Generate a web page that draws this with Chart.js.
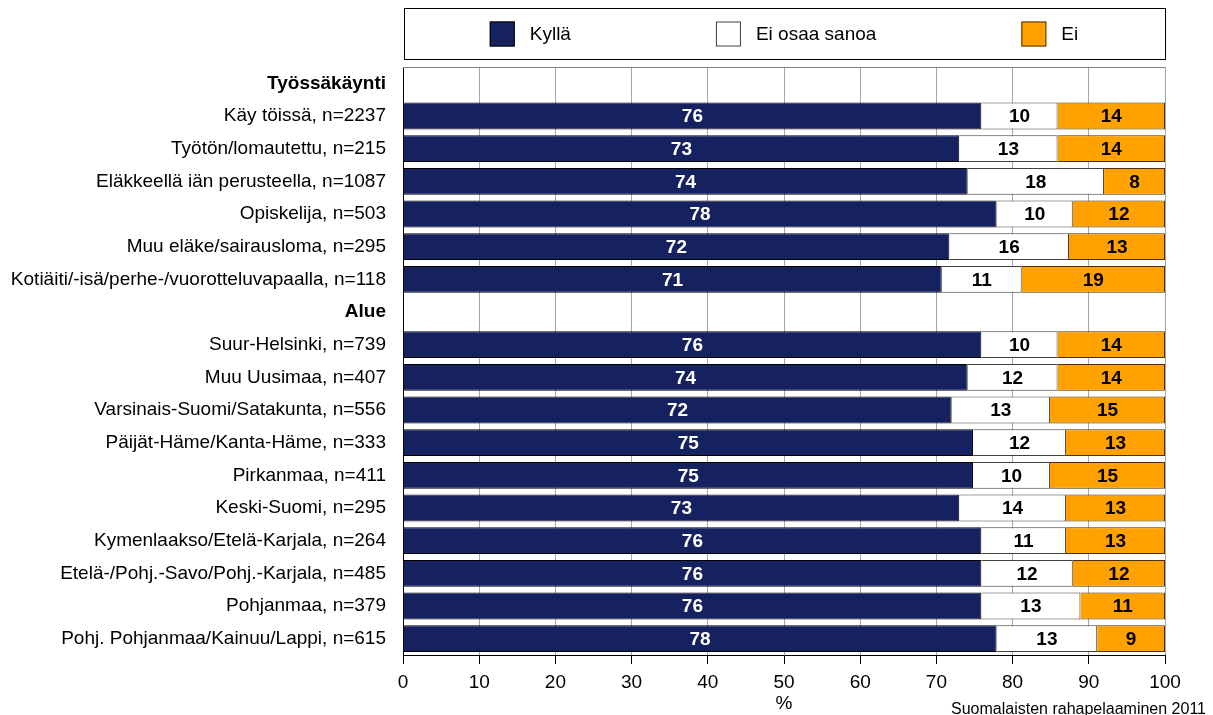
<!DOCTYPE html>
<html>
<head>
<meta charset="utf-8">
<script src="https://cdn.jsdelivr.net/npm/chart.js@4"></script>
<style>
  body { margin: 0; background: #fff; }
  #wrap { width: 1213px; height: 715px; position: relative; }
</style>
</head>
<body>
<div id="wrap"><canvas id="myChart"></canvas></div>
<script>
// Categories (header rows have no data)
const categories = [
  'Työssäkäynti',
  'Käy töissä, n=2237',
  'Työtön/lomautettu, n=215',
  'Eläkkeellä iän perusteella, n=1087',
  'Opiskelija, n=503',
  'Muu eläke/sairausloma, n=295',
  'Kotiäiti/-isä/perhe-/vuorotteluvapaalla, n=118',
  'Alue',
  'Suur-Helsinki, n=739',
  'Muu Uusimaa, n=407',
  'Varsinais-Suomi/Satakunta, n=556',
  'Päijät-Häme/Kanta-Häme, n=333',
  'Pirkanmaa, n=411',
  'Keski-Suomi, n=295',
  'Kymenlaakso/Etelä-Karjala, n=264',
  'Etelä-/Pohj.-Savo/Pohj.-Karjala, n=485',
  'Pohjanmaa, n=379',
  'Pohj. Pohjanmaa/Kainuu/Lappi, n=615'
];
const headerRows = ['Työssäkäynti', 'Alue'];

// Series values (%)
const kylla  = [null, 75.9, 73.0, 74.1, 77.9, 71.7, 70.7, null, 75.9, 74.1, 72.0, 74.8, 74.8, 73.0, 75.9, 75.9, 75.9, 77.9];
const eiOsaa = [null, 10.0, 12.9, 17.9, 10.0, 15.7, 10.5, null, 10.0, 11.8, 12.9, 12.2, 10.1, 14.0, 11.1, 12.0, 13.0, 13.2];
const ei     = [null, 14.1, 14.1,  8.0, 12.1, 12.6, 18.8, null, 14.1, 14.1, 15.1, 13.0, 15.1, 13.0, 13.0, 12.1, 11.1,  8.9];

const seriesNames = ['Kyllä', 'Ei osaa sanoa', 'Ei'];
const xTicks = [0, 10, 20, 30, 40, 50, 60, 70, 80, 90, 100];

const FONT = "'Liberation Sans', Arial, sans-serif";
const SIZE = 19;

// draws the numbers inside the bars
const barLabels = {
  id: 'barLabels',
  afterDatasetsDraw(chart) {
    const ctx = chart.ctx;
    ctx.save();
    ctx.font = 'bold ' + SIZE + 'px ' + FONT;
    ctx.textAlign = 'center';
    ctx.textBaseline = 'middle';
    chart.data.datasets.forEach((ds, i) => {
      const meta = chart.getDatasetMeta(i);
      meta.data.forEach((bar, j) => {
        const v = ds.data[j];
        if (v == null) return;
        const p = bar.getProps(['x', 'y', 'base'], true);
        ctx.fillStyle = i === 0 ? '#ffffff' : '#000000';
        ctx.fillText(Math.round(v), (p.x + p.base) / 2, p.y + 1);
      });
    });
    ctx.restore();
  }
};

// legend box, plot frame and source text
const frame = {
  id: 'frame',
  beforeDatasetsDraw(chart) {
    const a = chart.chartArea, ctx = chart.ctx;
    ctx.save();
    ctx.strokeStyle = '#808080';
    ctx.lineWidth = 1;
    ctx.beginPath();
    ctx.moveTo(a.left, a.top + 0.5);
    ctx.lineTo(a.right, a.top + 0.5);
    ctx.stroke();
    ctx.restore();
  },
  afterDraw(chart) {
    const a = chart.chartArea, ctx = chart.ctx;
    ctx.save();
    // legend
    ctx.strokeStyle = '#000';
    ctx.lineWidth = 1;
    ctx.strokeRect(a.left + 1.5, 8.5, a.width - 1, 51);
    ctx.font = SIZE + 'px ' + FONT;
    ctx.textBaseline = 'middle';
    const box = 25, gapText = 15, gapItem = 145;
    const widths = chart.data.datasets.map(d => box + gapText + ctx.measureText(d.label).width);
    const total = widths.reduce((s, w) => s + w, 0) + gapItem * (widths.length - 1);
    let x = (a.left + a.right) / 2 - total / 2;
    const cy = 34;
    chart.data.datasets.forEach((d, i) => {
      ctx.fillStyle = d.backgroundColor;
      ctx.fillRect(x, cy - box / 2, box, box);
      ctx.strokeStyle = d.borderColor;
      ctx.strokeRect(x + 0.5, cy - box / 2 + 0.5, box - 1, box - 1);
      ctx.fillStyle = '#000';
      ctx.textAlign = 'left';
      ctx.fillText(d.label, x + box + gapText, cy + 1);
      x += widths[i] + gapItem;
    });
    // source
    ctx.font = '16px ' + FONT;
    ctx.textAlign = 'right';
    ctx.textBaseline = 'alphabetic';
    ctx.fillText('Suomalaisten rahapelaaminen 2011', chart.width - 7, 714);
    ctx.restore();
  }
};

new Chart('myChart', {
  type: 'bar',
  data: {
    labels: categories,
    datasets: [
      { label: seriesNames[0], data: kylla,  backgroundColor: '#16215f', borderColor: '#000000', borderWidth: 1 },
      { label: seriesNames[1], data: eiOsaa, backgroundColor: '#ffffff', borderColor: '#404040', borderWidth: 1 },
      { label: seriesNames[2], data: ei,     backgroundColor: '#ffa200', borderColor: '#4a3000', borderWidth: 1 }
    ]
  },
  options: {
    indexAxis: 'y',
    responsive: true,
    maintainAspectRatio: false,
    animation: false,
    layout: { padding: { top: 67, right: 48, bottom: 0, left: 0 } },
    datasets: { bar: { barPercentage: 0.82, categoryPercentage: 1.0 } },
    plugins: {
      legend: { display: false },
      tooltip: { enabled: false }
    },
    scales: {
      x: {
        stacked: true,
        min: 0,
        max: 100,
        afterBuildTicks: s => { s.ticks = xTicks.map(v => ({ value: v })); },
        afterFit: s => { s.height = 60; },
        grid: { color: '#a6a6a6', tickColor: '#000', tickLength: 9, drawTicks: true },
        border: { display: true, color: '#000' },
        ticks: { color: '#000', font: { family: FONT, size: SIZE }, padding: 7, maxRotation: 0 },
        title: { display: true, text: '%', color: '#000', font: { family: FONT, size: SIZE }, padding: { top: 0, bottom: 0 } }
      },
      y: {
        stacked: true,
        afterFit: s => { s.width = 403; },
        grid: { display: false },
        border: { display: true, color: '#000' },
        ticks: {
          color: '#000',
          padding: 9,
          autoSkip: false,
          font: c => ({ family: FONT, size: SIZE, weight: headerRows.includes(categories[c.index]) ? 'bold' : 'normal' })
        }
      }
    }
  },
  plugins: [barLabels, frame]
});
</script>
</body>
</html>
